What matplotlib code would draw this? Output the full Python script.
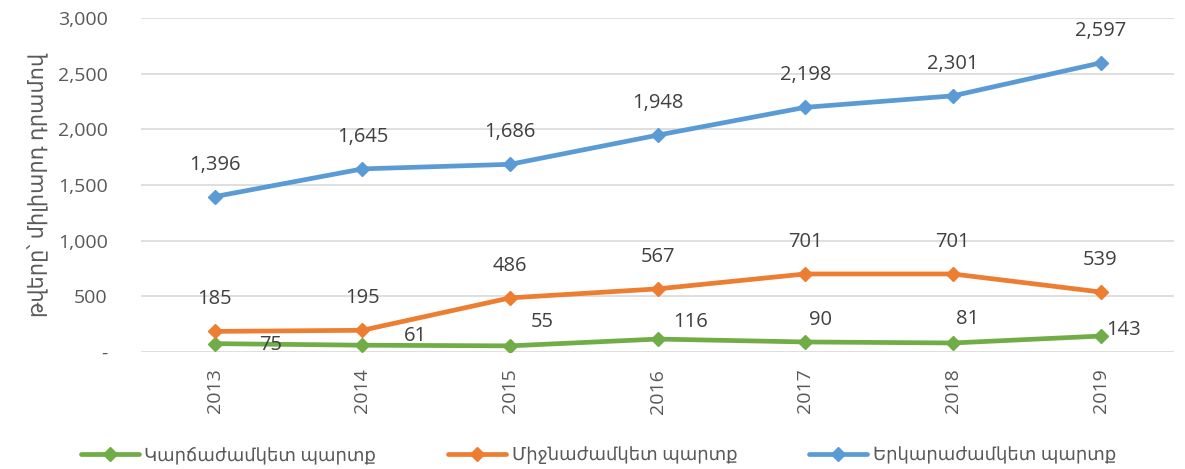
import matplotlib
matplotlib.use('Agg')
import matplotlib.pyplot as plt
from matplotlib.ticker import FuncFormatter

years = ['2013', '2014', '2015', '2016', '2017', '2018', '2019']
short_term = [75, 61, 55, 116, 90, 81, 143]
medium_term = [185, 195, 486, 567, 701, 701, 539]
long_term = [1396, 1645, 1686, 1948, 2198, 2301, 2597]

labels = ['Կարճաժամկետ պարտք', 'Միջնաժամկետ պարտք', 'Երկարաժամկետ պարտք']
y_label = 'թվերը՝ միլիարդ դրամով'

# label offsets (pixels) for the short-term series, as placed in the original
short_offsets = [(56, -1), (53, 9), (32, 24), (33, 17), (15, 22), (15, 24), (23, 6)]

plt.rcParams['font.family'] = ['Open Sans', 'DejaVu Sans']

fig = plt.figure(figsize=(11.85, 4.69), dpi=100)
ax = fig.add_axes([0.119, 0.2495, 0.872, 0.712])

x = list(range(len(years)))
series = [
    (short_term, '#70AD47'),
    (medium_term, '#ED7D31'),
    (long_term, '#5B9BD5'),
]
handles = []
for (vals, color), name in zip(series, labels):
    h, = ax.plot(x, vals, color=color, lw=3.4, marker='D', markersize=7.5,
                 solid_capstyle='round', label=name, zorder=3)
    handles.append(h)

for i, v in enumerate(short_term):
    ax.annotate(f'{v:,}', (i, v), xytext=short_offsets[i], textcoords='offset pixels',
                ha='center', va='center', fontsize=14.5, color='#404040')
for vals in (medium_term, long_term):
    for i, v in enumerate(vals):
        ax.annotate(f'{v:,}', (i, v), xytext=(0, 32), textcoords='offset pixels',
                    ha='center', va='center', fontsize=14.5, color='#404040')

ax.set_xlim(-0.5, len(years) - 0.5)
ax.set_ylim(0, 3000)
ax.set_yticks(range(0, 3001, 500))
ax.yaxis.set_major_formatter(FuncFormatter(lambda v, p: '-' if v == 0 else f'{int(v):,}'))
ax.set_xticks(x)
ax.set_xticklabels(years, rotation=90)
ax.tick_params(axis='both', length=0, labelsize=14, labelcolor='#595959')
ax.tick_params(axis='y', pad=24)
ax.tick_params(axis='x', pad=12)
ax.grid(axis='y', color='#d9d9d9', lw=1.2)
ax.set_axisbelow(True)
for s in ax.spines.values():
    s.set_visible(False)
ax.set_ylabel(y_label, fontsize=15, color='#595959', labelpad=6)

fig.legend(handles=handles, loc='lower center', bbox_to_anchor=(0.505, -0.025), ncol=3,
           frameon=False, fontsize=13, handlelength=3.2, handletextpad=0.3,
           columnspacing=4.0, labelcolor='#595959')

fig.savefig('out.png', dpi=100)
